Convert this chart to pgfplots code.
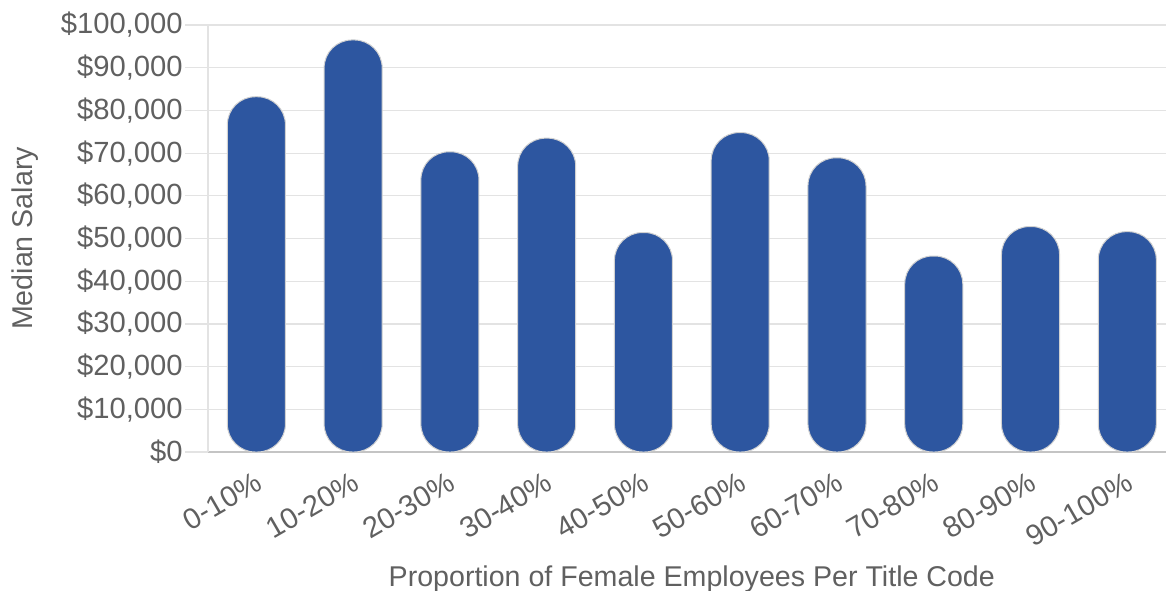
\documentclass[border=0pt]{standalone}
\usepackage{pgfplots}
\pgfplotsset{compat=1.18}
\usepackage{fontspec}
\setmainfont{Liberation Sans}
\definecolor{barblue}{HTML}{2D56A0}
\definecolor{txtgray}{HTML}{606060}
\definecolor{gridgray}{HTML}{E3E3E3}
\definecolor{axisgray}{HTML}{C4C4C4}
\begin{document}
\begin{tikzpicture}
\begin{axis}[
  at={(104pt,69pt)}, anchor=south west,
  scale only axis, width=479pt, height=213.5pt,
  xmin=-0.5, xmax=9.4, ymin=0, ymax=100000,
  scaled y ticks=false,
  axis x line*=bottom, axis y line*=left,
  x axis line style={draw=axisgray, line width=0.6pt, -},
  y axis line style={draw=gridgray, line width=0.6pt, -},
  xtick=data,
  xticklabels={0-10\%,10-20\%,20-30\%,30-40\%,40-50\%,50-60\%,60-70\%,70-80\%,80-90\%,90-100\%},
  x tick style={draw=none},
  xticklabel style={rotate=30, anchor=north east, inner sep=0pt, yshift=2.5pt, font=\fontsize{14.6}{16}\selectfont, text=txtgray},
  ytick={0,10000,20000,30000,40000,50000,60000,70000,80000,90000,100000},
  yticklabels={{\$0},{\$10,000},{\$20,000},{\$30,000},{\$40,000},{\$50,000},{\$60,000},{\$70,000},{\$80,000},{\$90,000},{\$100,000}},
  yticklabel style={anchor=east, inner sep=0pt, xshift=-1pt, font=\fontsize{14.6}{16}\selectfont, text=txtgray},
  ymajorgrids, grid style={draw=gridgray, line width=0.6pt},
  y tick style={draw=gridgray, line width=0.6pt},
  tick align=outside, major tick length=11.5pt,
  every axis y label/.style={at={(axis description cs:-0.191,0.5)}, rotate=90, anchor=center, font=\fontsize{14.3}{16}\selectfont, text=txtgray},
  every axis x label/.style={at={(axis description cs:0.505,-0.298)}, anchor=center, font=\fontsize{14.3}{16}\selectfont, text=txtgray},
  ylabel={Median Salary},
  xlabel={Proportion of Female Employees Per Title Code},
  clip=false,
]
\addplot[ybar, bar width=0.6, fill=barblue, draw=black!18, line width=0.5pt, rounded corners=14pt]
coordinates {(0,83200) (1,96500) (2,70300) (3,73500) (4,51400) (5,74800) (6,68900) (7,45900) (8,52800) (9,51600)};
\end{axis}
\pgfresetboundingbox
\path[use as bounding box] (0,0) rectangle (583pt,295pt);
\end{tikzpicture}
\end{document}
